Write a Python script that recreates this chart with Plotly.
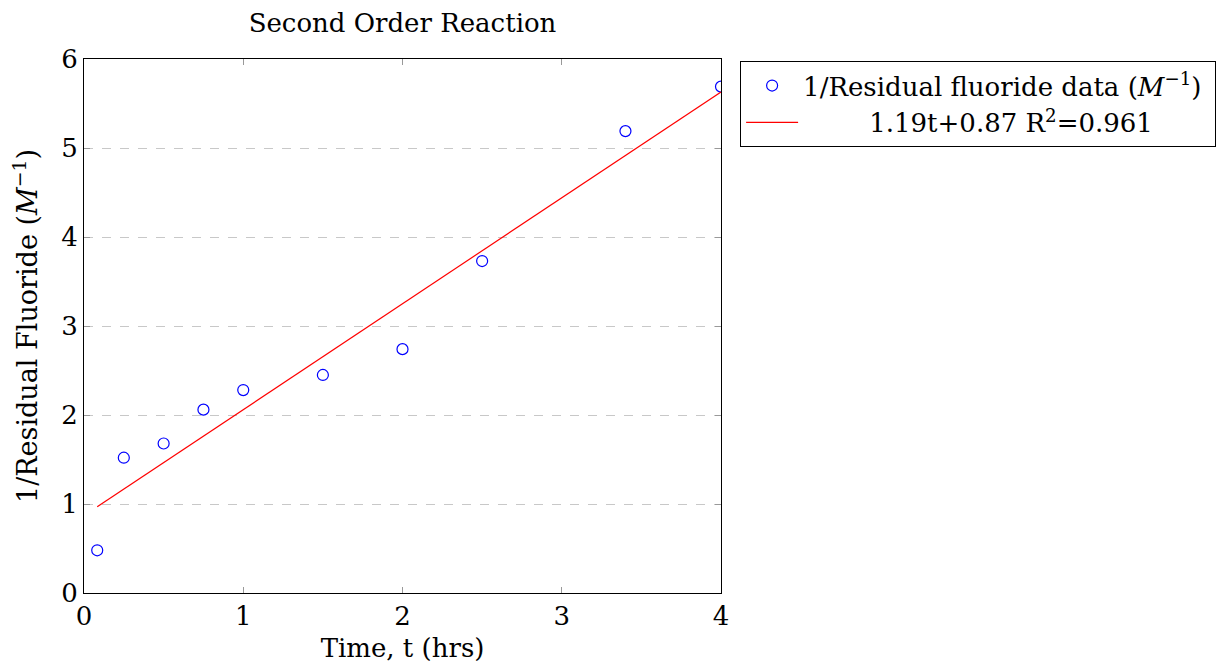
import plotly.graph_objects as go

time_hrs = [0.083, 0.25, 0.5, 0.75, 1.0, 1.5, 2.0, 2.5, 3.4, 4.0]
inv_fluoride = [0.48, 1.52, 1.68, 2.06, 2.28, 2.45, 2.74, 3.73, 5.19, 5.69]
slope = 1.19
intercept = 0.87
r2 = 0.961
fit_x = [0.083, 4.0]
fit_y = [slope * x + intercept for x in fit_x]

FONT = "DejaVu Serif"
FS = 26

fig = go.Figure()
fig.add_trace(go.Scatter(
    x=time_hrs, y=inv_fluoride, mode="markers",
    name="1/Residual fluoride data (<i>M</i><sup>−1</sup>) ",
    marker=dict(symbol="circle-open", size=11, color="blue", line=dict(width=1.2, color="blue")),
))
fig.add_trace(go.Scatter(
    x=fit_x, y=fit_y, mode="lines",
    name=f"        {slope}t+{intercept} R<sup>2</sup>={r2}",
    line=dict(color="red", width=1.2),
))

fig.update_layout(
    width=1227, height=671,
    margin=dict(l=84, r=506, t=59, b=78, autoexpand=False),
    paper_bgcolor="white", plot_bgcolor="white",
    font=dict(family=FONT, size=FS, color="black"),
    title=dict(text="Second Order Reaction", x=(84 + 721) / 2 / 1227, xanchor="center",
               y=1 - 23 / 671, yanchor="middle", font=dict(size=FS)),
    showlegend=True,
    legend=dict(x=1.03, y=0.996, xanchor="left", yanchor="top",
                bordercolor="black", borderwidth=1, bgcolor="white",
                font=dict(size=FS), itemwidth=52, tracegroupgap=0),
    xaxis=dict(range=[0, 4], tickvals=[0, 1, 2, 3, 4], showgrid=False, zeroline=False,
               showline=True, linecolor="black", linewidth=1, mirror="ticks",
               ticks="inside", ticklen=6, tickcolor="#999999",
               title=dict(text="Time, t (hrs)", standoff=8, font=dict(size=FS))),
    yaxis=dict(range=[0, 6], tickvals=[0, 1, 2, 3, 4, 5, 6], showgrid=True,
               gridcolor="#c8c8c8", griddash="dash", gridwidth=1, zeroline=False,
               showline=True, linecolor="black", linewidth=1, mirror="ticks",
               ticks="inside", ticklen=6, tickcolor="#999999"),
    annotations=[dict(text="1/Residual Fluoride (<i>M</i><sup>−1</sup>)", textangle=-90,
                      xref="paper", yref="paper", x=(25 - 84) / 637, y=0.5,
                      xanchor="center", yanchor="middle", showarrow=False,
                      font=dict(size=27))],
)

fig.write_html("out.html")
